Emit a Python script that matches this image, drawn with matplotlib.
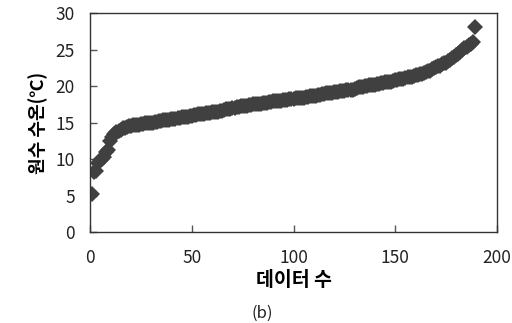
import matplotlib.pyplot as plt

plt.rcParams['font.family'] = ['Noto Sans CJK KR', 'DejaVu Sans']

# sorted water temperature samples
temps = [
    5.2, 8.2, 8.4, 9.5, 9.8, 10.0, 10.3, 11.0, 11.3, 12.5,
    13.0, 13.4, 13.7, 13.9, 14.0, 14.2, 14.3, 14.4, 14.5, 14.5,
    14.6, 14.6, 14.7, 14.7, 14.8, 14.8, 14.9, 14.9, 15.0, 15.0,
    15.0, 15.1, 15.1, 15.2, 15.2, 15.3, 15.3, 15.4, 15.4, 15.5,
    15.5, 15.5, 15.6, 15.6, 15.7, 15.7, 15.8, 15.8, 15.9, 15.9,
    16.0, 16.0, 16.1, 16.1, 16.2, 16.2, 16.3, 16.3, 16.3, 16.4,
    16.4, 16.5, 16.5, 16.6, 16.6, 16.7, 16.8, 16.8, 16.9, 17.0,
    17.0, 17.1, 17.1, 17.2, 17.2, 17.3, 17.3, 17.4, 17.4, 17.5,
    17.5, 17.5, 17.6, 17.6, 17.7, 17.7, 17.7, 17.8, 17.8, 17.9,
    17.9, 18.0, 18.0, 18.0, 18.1, 18.1, 18.1, 18.2, 18.2, 18.2,
    18.3, 18.3, 18.3, 18.4, 18.4, 18.5, 18.5, 18.6, 18.6, 18.7,
    18.7, 18.8, 18.8, 18.9, 18.9, 19.0, 19.0, 19.1, 19.1, 19.2,
    19.2, 19.2, 19.3, 19.3, 19.3, 19.4, 19.4, 19.5, 19.5, 19.6,
    19.7, 19.8, 19.8, 19.9, 20.0, 20.0, 20.1, 20.1, 20.2, 20.2,
    20.3, 20.3, 20.4, 20.4, 20.5, 20.5, 20.6, 20.6, 20.7, 20.8,
    20.8, 20.9, 21.0, 21.0, 21.1, 21.2, 21.2, 21.3, 21.4, 21.5,
    21.5, 21.6, 21.7, 21.8, 21.9, 22.0, 22.1, 22.3, 22.4, 22.6,
    22.7, 22.8, 23.0, 23.1, 23.2, 23.4, 23.6, 23.8, 24.0, 24.2,
    24.4, 24.7, 25.0, 25.2, 25.4, 25.6, 25.8, 26.0, 28.1,
]
counts = list(range(1, len(temps) + 1))

x_ticks = [0, 50, 100, 150, 200]
y_ticks = [0, 5, 10, 15, 20, 25, 30]

fig = plt.figure(figsize=(5.12, 3.23), dpi=100)
ax = fig.add_axes([0.1758, 0.2817, 0.795, 0.678])

ax.plot(counts, temps, linestyle='none', marker='D', markersize=8.5,
        color='#404040', markeredgewidth=0)

ax.set_xlim(0, 200)
ax.set_ylim(0, 30)
ax.set_xticks(x_ticks)
ax.set_yticks(y_ticks)
ax.tick_params(direction='in', length=5, width=1, colors='#555555',
               labelcolor='#222222', labelsize=12.5)
ax.tick_params(axis='x', pad=12)
ax.tick_params(axis='y', pad=11)
for s in ax.spines.values():
    s.set_color('#333333')
    s.set_linewidth(1)

ax.set_xlabel('데이터 수', fontsize=14, fontweight='bold', labelpad=3)
ax.set_ylabel('원수 수온(℃)', fontsize=13, fontweight='bold', labelpad=5)

fig.text(0.512, 0.03, '(b)', fontsize=12, ha='center', va='center', color='#222222')

fig.savefig('out.png', dpi=100)
